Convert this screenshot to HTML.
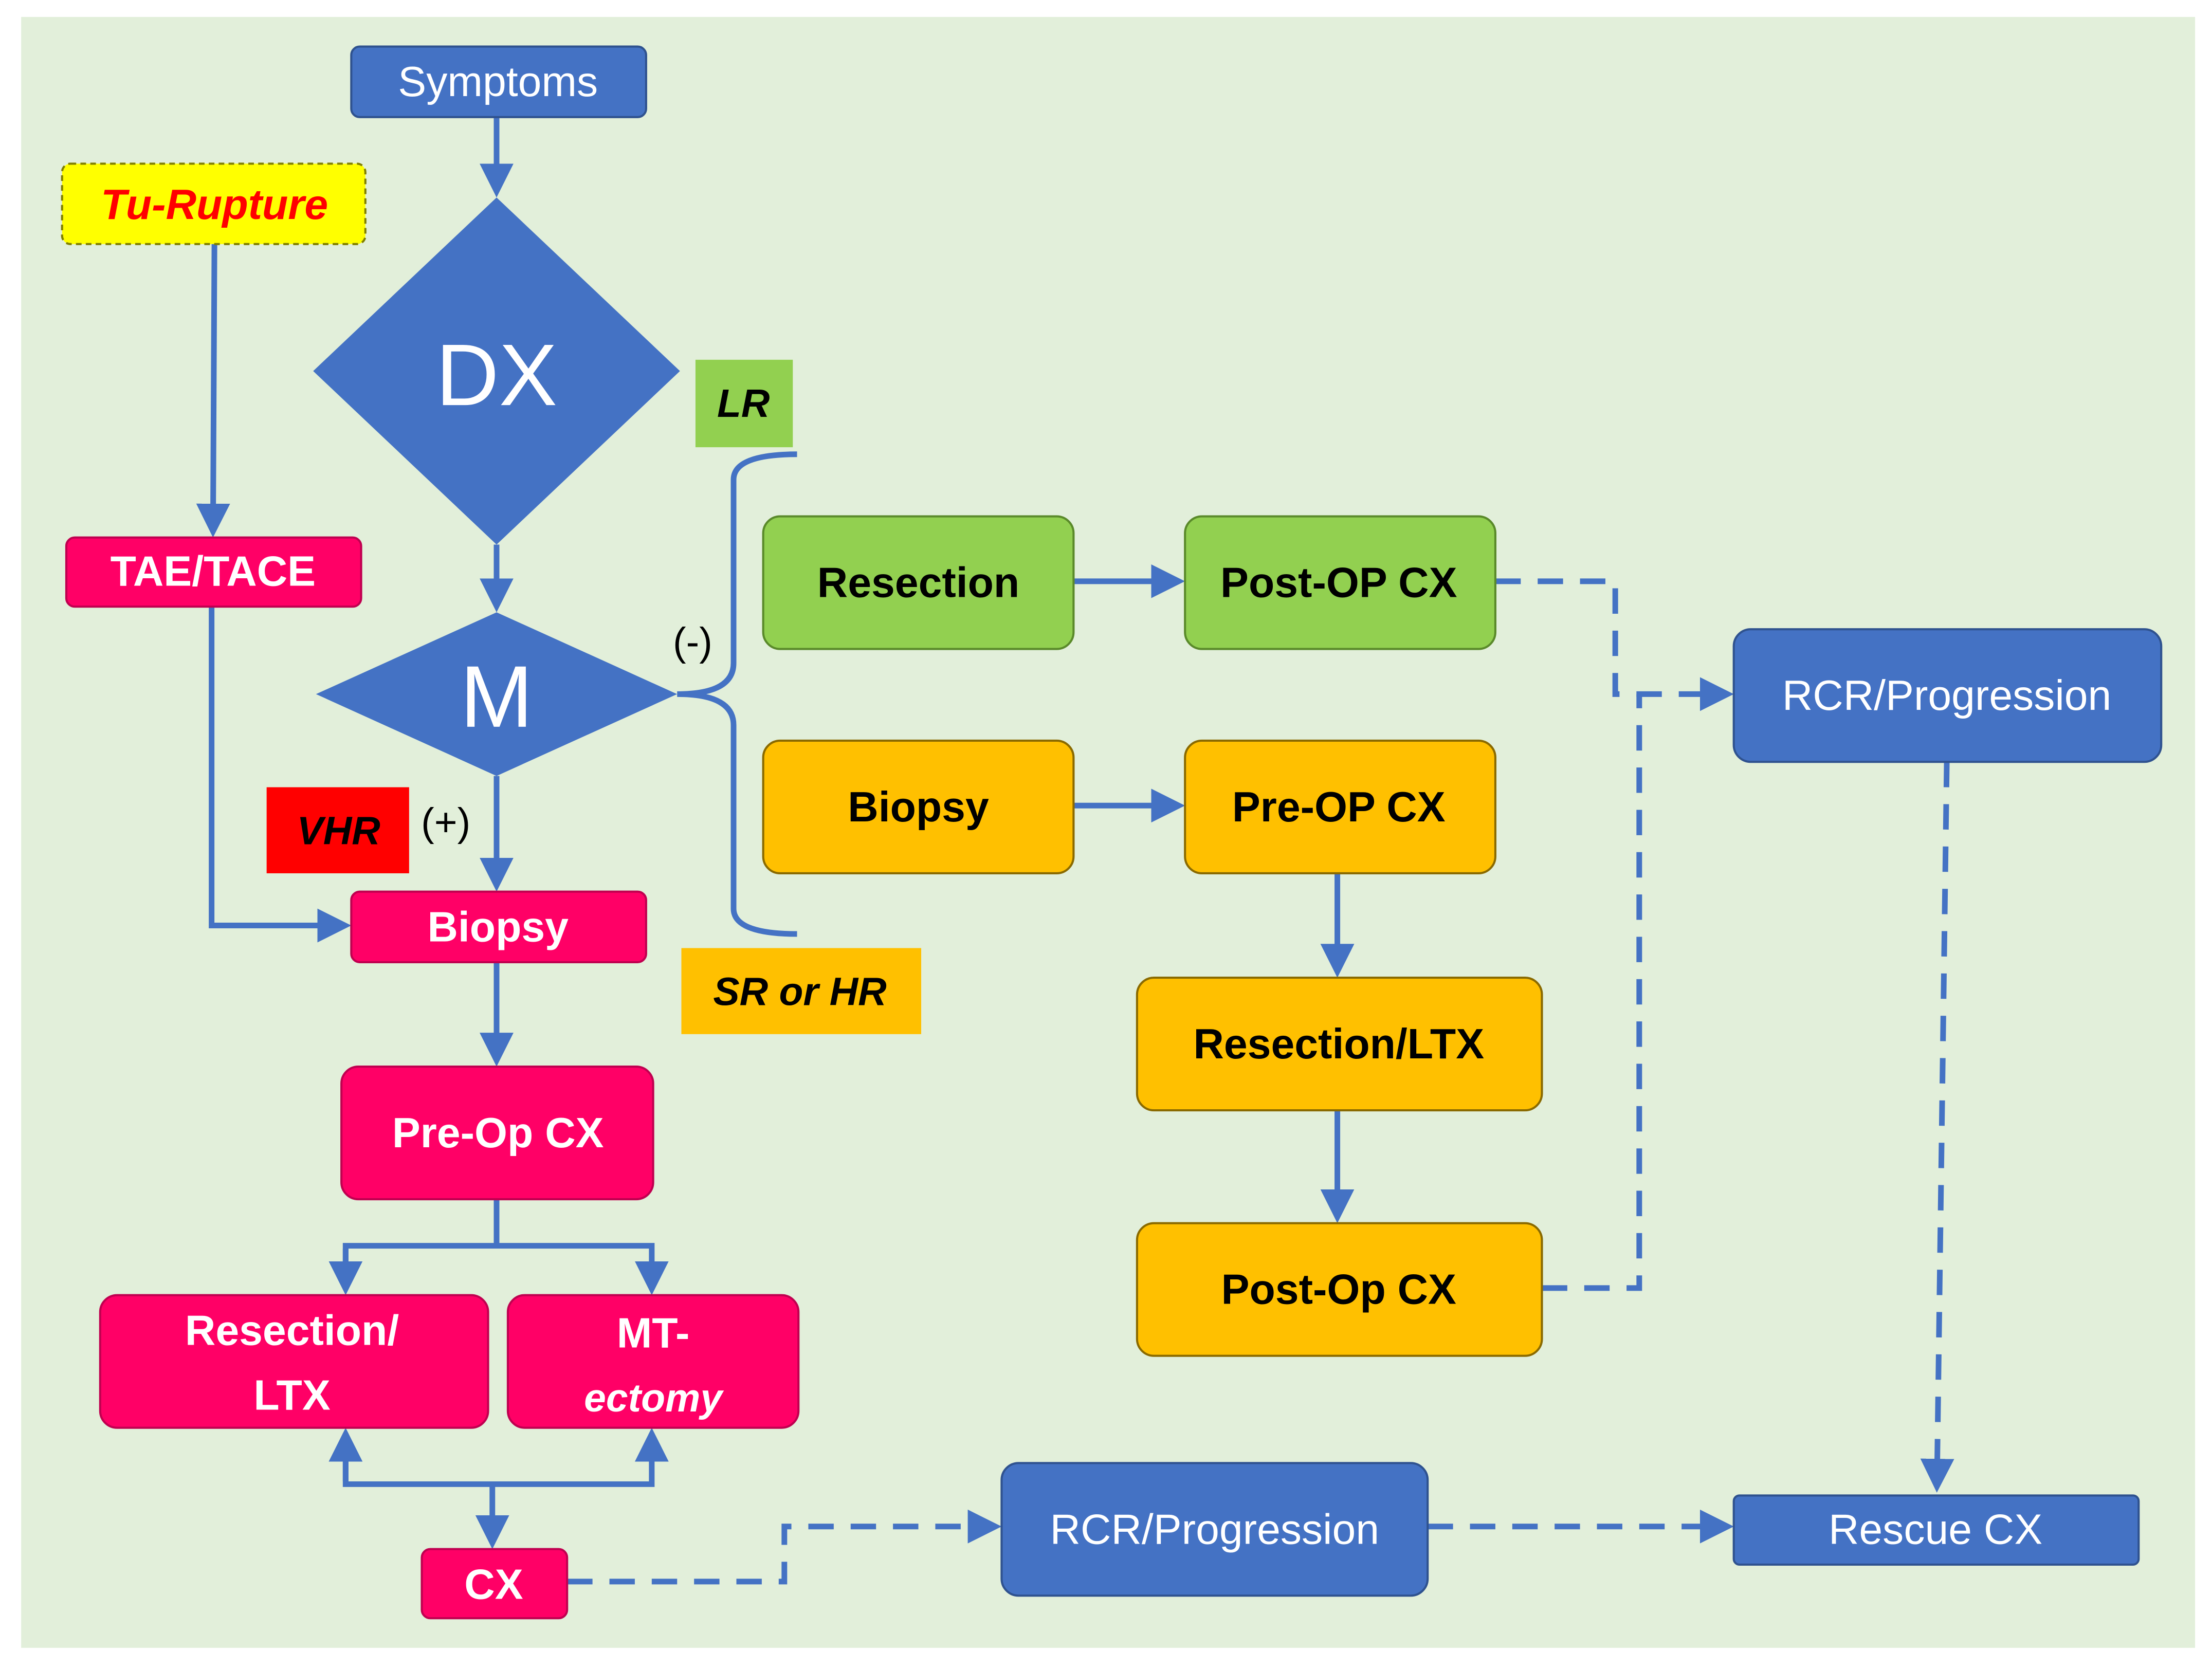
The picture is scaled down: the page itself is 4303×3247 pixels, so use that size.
<!DOCTYPE html>
<html><head><meta charset="utf-8"><style>
html,body{margin:0;padding:0;background:#fff;}
svg{display:block;}
text{font-family:"Liberation Sans",sans-serif;}
</style></head><body>
<svg width="4303" height="3247" viewBox="0 0 1568 1183" preserveAspectRatio="none" xmlns="http://www.w3.org/2000/svg">
<defs>
<marker id="a" markerWidth="6" markerHeight="6" refX="5" refY="3" orient="auto" markerUnits="strokeWidth">
<path d="M0,0 L6,3 L0,6 z" fill="#4472c4"/></marker>
</defs>
<rect x="0" y="0" width="1568" height="1183" fill="#fff"/>
<rect x="15" y="12" width="1541" height="1156" fill="#e2efda"/>

<g stroke="#4472c4" stroke-width="4" fill="none">
<!-- solid connectors -->
<line x1="352" y1="83" x2="352" y2="136" marker-end="url(#a)"/>
<line x1="352" y1="386" x2="352" y2="430" marker-end="url(#a)"/>
<line x1="352" y1="550" x2="352" y2="628" marker-end="url(#a)"/>
<line x1="152" y1="173" x2="151" y2="377" marker-end="url(#a)"/>
<polyline points="150,430 150,656 245,656" marker-end="url(#a)"/>
<line x1="352" y1="682" x2="352" y2="752" marker-end="url(#a)"/>
<line x1="352" y1="850" x2="352" y2="883"/>
<polyline points="245,914 245,883 462,883 462,914" marker-end="url(#a)"/>
<line x1="245" y1="885" x2="245" y2="914" marker-end="url(#a)"/>
<polyline points="245,1016 245,1052 462,1052 462,1016" marker-end="url(#a)"/>
<line x1="245" y1="1050" x2="245" y2="1016" marker-end="url(#a)"/>
<line x1="349" y1="1052" x2="349" y2="1094" marker-end="url(#a)"/>
<line x1="761" y1="412" x2="836" y2="412" marker-end="url(#a)"/>
<line x1="761" y1="571" x2="836" y2="571" marker-end="url(#a)"/>
<line x1="948" y1="619" x2="948" y2="689" marker-end="url(#a)"/>
<line x1="948" y1="787" x2="948" y2="863" marker-end="url(#a)"/>
<!-- brace -->
<path d="M565,322 Q520,322 520,340 L520,470 Q520,492 480,492 Q520,492 520,514 L520,644 Q520,662 565,662"/>
</g>
<g stroke="#4472c4" stroke-width="4" fill="none" stroke-dasharray="18,12">
<polyline points="1060,412 1145,412 1145,492 1225,492" marker-end="url(#a)"/>
<polyline points="1093,913 1162,913 1162,492"/>
<polyline points="1380,540 1373,1054" marker-end="url(#a)"/>
<polyline points="402,1121 556,1121 556,1082 706,1082" marker-end="url(#a)"/>
<polyline points="1012,1082 1225,1082" marker-end="url(#a)"/>
</g>

<!-- shapes -->
<rect x="249" y="33" width="209" height="50" rx="6" fill="#4472c4" stroke="#2f528f" stroke-width="1.5"/>
<rect x="44" y="116" width="215" height="57" rx="6" fill="#ffff00" stroke="#7f7f00" stroke-width="1.5" stroke-dasharray="4,3"/>
<polygon points="352,140 482,263 352,386 222,263" fill="#4472c4"/>
<polygon points="352,434 480,492 352,550 224,492" fill="#4472c4"/>
<rect x="493" y="255" width="69" height="62" fill="#92d050"/>
<rect x="47" y="381" width="209" height="49" rx="6" fill="#ff0066" stroke="#c00050" stroke-width="1.5"/>
<rect x="541" y="366" width="220" height="94" rx="12" fill="#92d050" stroke="#5a8a2a" stroke-width="1.5"/>
<rect x="840" y="366" width="220" height="94" rx="12" fill="#92d050" stroke="#5a8a2a" stroke-width="1.5"/>
<rect x="541" y="525" width="220" height="94" rx="12" fill="#ffc000" stroke="#8a6a00" stroke-width="1.5"/>
<rect x="840" y="525" width="220" height="94" rx="12" fill="#ffc000" stroke="#8a6a00" stroke-width="1.5"/>
<rect x="806" y="693" width="287" height="94" rx="12" fill="#ffc000" stroke="#8a6a00" stroke-width="1.5"/>
<rect x="806" y="867" width="287" height="94" rx="12" fill="#ffc000" stroke="#8a6a00" stroke-width="1.5"/>
<rect x="1229" y="446" width="303" height="94" rx="12" fill="#4472c4" stroke="#2f528f" stroke-width="1.5"/>
<rect x="189" y="558" width="101" height="61" fill="#ff0000"/>
<rect x="249" y="632" width="209" height="50" rx="6" fill="#ff0066" stroke="#c00050" stroke-width="1.5"/>
<rect x="483" y="672" width="170" height="61" fill="#ffc000"/>
<rect x="242" y="756" width="221" height="94" rx="12" fill="#ff0066" stroke="#c00050" stroke-width="1.5"/>
<rect x="71" y="918" width="275" height="94" rx="12" fill="#ff0066" stroke="#c00050" stroke-width="1.5"/>
<rect x="360" y="918" width="206" height="94" rx="12" fill="#ff0066" stroke="#c00050" stroke-width="1.5"/>
<rect x="299" y="1098" width="103" height="49" rx="6" fill="#ff0066" stroke="#c00050" stroke-width="1.5"/>
<rect x="710" y="1037" width="302" height="94" rx="12" fill="#4472c4" stroke="#2f528f" stroke-width="1.5"/>
<rect x="1229" y="1060" width="287" height="49" rx="4" fill="#4472c4" stroke="#2f528f" stroke-width="1.5"/>

<!-- text -->
<g text-anchor="middle" dominant-baseline="central">
<text x="353" y="58" font-size="30" fill="#fff">Symptoms</text>
<text x="152" y="145" font-size="30" fill="#ff0000" font-weight="bold" font-style="italic">Tu-Rupture</text>
<text x="352" y="266" font-size="62" fill="#fff">DX</text>
<text x="352" y="494" font-size="62" fill="#fff">M</text>
<text x="527" y="286" font-size="28" fill="#000" font-weight="bold" font-style="italic">LR</text>
<text x="151" y="405" font-size="30" fill="#fff" font-weight="bold">TAE/TACE</text>
<text x="491" y="455" font-size="28" fill="#000">(-)</text>
<text x="651" y="413" font-size="30" fill="#000" font-weight="bold">Resection</text>
<text x="949" y="413" font-size="30" fill="#000" font-weight="bold">Post-OP CX</text>
<text x="651" y="572" font-size="30" fill="#000" font-weight="bold">Biopsy</text>
<text x="949" y="572" font-size="30" fill="#000" font-weight="bold">Pre-OP CX</text>
<text x="949" y="740" font-size="30" fill="#000" font-weight="bold">Resection/LTX</text>
<text x="949" y="914" font-size="30" fill="#000" font-weight="bold">Post-Op CX</text>
<text x="1380" y="493" font-size="30" fill="#fff">RCR/Progression</text>
<text x="240" y="589" font-size="28" fill="#000" font-weight="bold" font-style="italic">VHR</text>
<text x="316" y="583" font-size="28" fill="#000">(+)</text>
<text x="353" y="657" font-size="30" fill="#fff" font-weight="bold">Biopsy</text>
<text x="567" y="703" font-size="28" fill="#000" font-weight="bold" font-style="italic">SR or HR</text>
<text x="353" y="803" font-size="30" fill="#fff" font-weight="bold">Pre-Op  CX</text>
<text x="207" y="943" font-size="30" fill="#fff" font-weight="bold">Resection/</text>
<text x="207" y="989" font-size="30" fill="#fff" font-weight="bold">LTX</text>
<text x="463" y="945" font-size="30" fill="#fff" font-weight="bold">MT-</text>
<text x="463" y="991" font-size="28" fill="#fff" font-weight="bold" font-style="italic">ectomy</text>
<text x="350" y="1123" font-size="30" fill="#fff" font-weight="bold">CX</text>
<text x="861" y="1084" font-size="30" fill="#fff">RCR/Progression</text>
<text x="1372" y="1084" font-size="30" fill="#fff">Rescue CX</text>
</g>
</svg>
</body></html>
